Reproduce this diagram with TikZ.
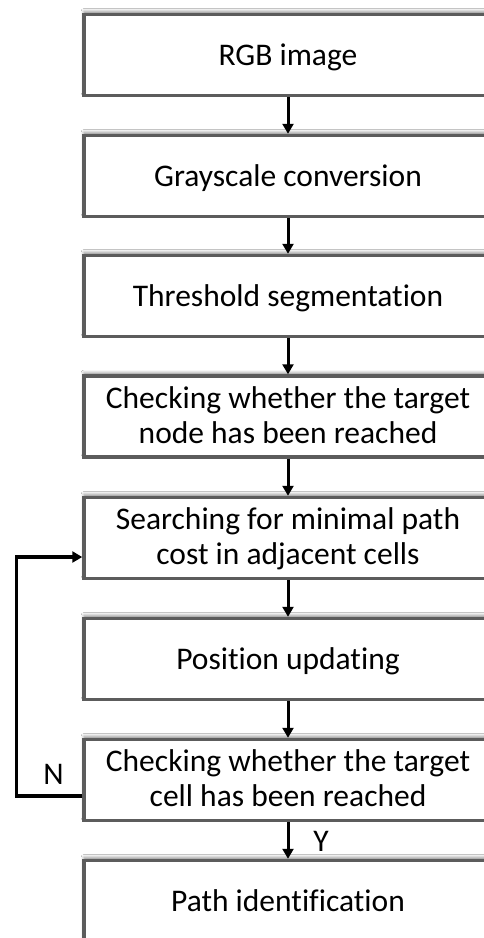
\documentclass[tikz,border=0pt]{standalone}
\usepackage{fontspec}
\setmainfont{Carlito}[Ligatures=NoCommon]
\usetikzlibrary{arrows.meta,shadows.blur}
\definecolor{boxline}{HTML}{5C5C5C}
\tikzset{
  stepbox/.style={draw=boxline, line width=3.5pt, fill=white, minimum width=408pt, minimum height=81pt,
    inner sep=0pt,
    blur shadow={shadow xshift=0pt, shadow yshift=3pt, shadow blur radius=3pt, shadow opacity=45}},
  txt/.style={anchor=base, inner sep=0pt, font=\fontsize{31.5}{36}\selectfont, text=black},
  arr/.style={draw=black, line width=3pt, -{Triangle[length=10pt,width=11pt]}},
  lbl/.style={anchor=base, font=\fontsize{31.5}{36}\selectfont, inner sep=0pt, text=black}
}
\begin{document}
\begin{tikzpicture}[x=1pt,y=-1pt]
\useasboundingbox (0,0) rectangle (484,938);
\clip (0,0) rectangle (484,938);
\fill[white] (0,0) rectangle (484,938);
\node[stepbox] (b1) at (288,55) {};
\node[stepbox] (b2) at (288,176) {};
\node[stepbox] (b3) at (288,296) {};
\node[stepbox] (b4) at (288,416.5) {};
\node[stepbox] (b5) at (288,538) {};
\node[stepbox] (b6) at (288,659) {};
\node[stepbox] (b7) at (288,780) {};
\node[stepbox] (b8) at (288,901) {};
\node[txt] (t1) at ([yshift=-10pt]b1.center) {RGB image};
\node[txt] (t2) at ([yshift=-10pt]b2.center) {Grayscale conversion};
\node[txt] (t3) at ([yshift=-10pt]b3.center) {Threshold segmentation};
\node[txt] (t4a) at ([yshift=8.5pt]b4.center) {Checking whether the target};
\node[txt] (t4b) at ([yshift=-26.5pt]b4.center) {node has been reached};
\node[txt] (t5a) at ([yshift=8.5pt]b5.center) {Searching for minimal path};
\node[txt] (t5b) at ([yshift=-26.5pt]b5.center) {cost in adjacent cells};
\node[txt] (t6) at ([yshift=-10pt]b6.center) {Position updating};
\node[txt] (t7a) at ([yshift=8.5pt]b7.center) {Checking whether the target};
\node[txt] (t7b) at ([yshift=-26.5pt]b7.center) {cell has been reached};
\node[txt] (t8) at ([yshift=-10pt]b8.center) {Path identification};
\draw[arr] (b1.south) -- (b2.north);
\draw[arr] (b2.south) -- (b3.north);
\draw[arr] (b3.south) -- (b4.north);
\draw[arr] (b4.south) -- (b5.north);
\draw[arr] (b5.south) -- (b6.north);
\draw[arr] (b6.south) -- (b7.north);
\draw[arr] (b7.south) -- (b8.north);
\draw[arr, line width=3.2pt] ([yshift=-16pt]b7.west) -- ++(-66,0) |- ([yshift=-19pt]b5.west);
\node[lbl] (n) at (53.5,784) {N};
\node[lbl] (y) at (321,851) {Y};
\end{tikzpicture}
\end{document}
